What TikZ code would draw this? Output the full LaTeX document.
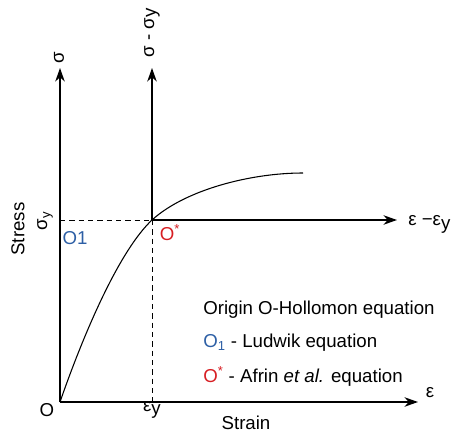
\documentclass[tikz,border=0pt]{standalone}
\usepackage{fontspec}
\setmainfont{Liberation Sans}
\usetikzlibrary{arrows.meta}
\pgfdeclarelayer{edgelayer}
\pgfdeclarelayer{nodelayer}
\pgfsetlayers{edgelayer,nodelayer,main}
\definecolor{ludwikblue}{RGB}{45,95,165}
\definecolor{afrinred}{RGB}{215,30,35}
\tikzstyle{axis}=[draw=black, line width=1.5pt, -{Stealth[length=10pt, width=7pt, inset=3pt]}]
\tikzstyle{guide}=[draw=black, line width=0.7pt, dash pattern=on 4pt off 3pt]
\tikzstyle{label}=[inner sep=0pt, font=\fontsize{14}{16}\selectfont]
\tikzstyle{legend}=[label, anchor=west]

\begin{document}
\begin{tikzpicture}[x=0.75pt, y=-0.75pt]
			\useasboundingbox (0, 0) rectangle (457, 435);
			\begin{pgfonlayer}{nodelayer}
				\coordinate (0) at (60, 402);
				\coordinate (1) at (60, 68);
				\coordinate (2) at (152, 220);
				\coordinate (3) at (152, 68);
				\coordinate (4) at (397, 220);
				\coordinate (5) at (418, 402);
				\coordinate (6) at (60, 220);
				\coordinate (7) at (152, 402);
				\coordinate (8) at (303, 173);
				\node [style=label, rotate=90] (9) at (59, 58) {σ};
				\node [style=label, rotate=90] (10) at (152, 33) {σ - σ\raisebox{-0.2ex}{y}};
				\node [style=label, anchor=west] (11) at (408, 224) {ε −ε\raisebox{-0.4ex}{y}};
				\node [style=label] (12) at (430, 393) {ε};
				\node [style=label] (13) at (47, 410) {O};
				\node [style=label] (14) at (152, 410) {ε\raisebox{-0.3ex}{y}};
				\node [style=label] (15) at (246, 423) {Strain};
				\node [style=label, rotate=90] (16) at (18, 229) {Stress};
				\node [style=label, rotate=90] (17) at (45, 221) {σ\textsubscript{y}};
				\node [style=label, text=ludwikblue] (18) at (75, 238) {O1};
				\node [style=label, text=afrinred] (19) at (170, 233) {O\textsuperscript{*}};
				\node [style=legend] (20) at (203, 310) {Origin O-Hollomon equation};
				\node [style=legend] (21) at (203, 343) {\textcolor{ludwikblue}{O\textsubscript{1}} - Ludwik equation};
				\node [style=legend] (22) at (203, 376) {\textcolor{afrinred}{O\textsuperscript{*}} - Afrin \textit{et al.} equation};
			\end{pgfonlayer}
			\begin{pgfonlayer}{edgelayer}
				\draw [style=axis] (0) to (1);
				\draw [style=axis] (2) to (3);
				\draw [style=axis] (2) to (4);
				\draw [style=axis] (0) to (5);
				\draw [style=guide] (6) to (2);
				\draw [style=guide] (2) to (7);
				\draw [line width=0.8pt] (0) .. controls (85, 330) and (120, 250) .. (2)
					.. controls (185, 190) and (250, 173) .. (8);
			\end{pgfonlayer}
		\end{tikzpicture}
\end{document}
